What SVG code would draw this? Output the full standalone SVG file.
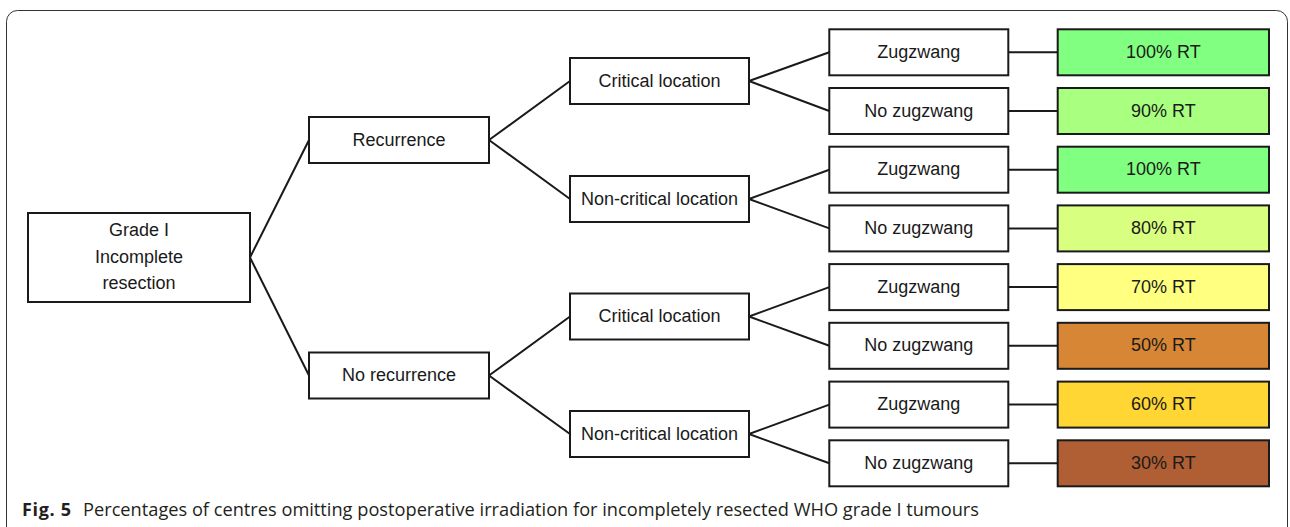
<svg xmlns="http://www.w3.org/2000/svg" width="1290" height="527" viewBox="0 0 1290 527">
<style>
.box{fill:#fff;stroke:#1a1a1a;stroke-width:2}
.res{stroke:#1a1a1a;stroke-width:2}
.lbl{font-family:"Liberation Sans",Arial,sans-serif;font-size:18px;fill:#1a1a1a;text-anchor:middle}
.con{stroke:#1a1a1a;stroke-width:2;fill:none}
.cap{font-family:"Open Sans","Noto Sans",sans-serif;font-size:18px;fill:#231f20}
</style>
<rect x="6.5" y="10.5" width="1281" height="540" rx="11" fill="#fff" stroke="#333" stroke-width="1"/>
<g id="connectors">
<path class="con" d="M250 257.5L309 140M250 257.5L309 375.5"/>
<path class="con" d="M489 140L570 81M489 140L570 199M489 375.5L570 316.5M489 375.5L570 434"/>
<path class="con" d="M749 81L829.3 52.3M749 81L829.3 111M749 199L829.3 169.7M749 199L829.3 228.4"/>
<path class="con" d="M749 316.5L829.3 287.1M749 316.5L829.3 345.8M749 434L829.3 404.6M749 434L829.3 463.3"/>
<path class="con" d="M1008.3 52.3H1057.7M1008.3 111H1057.7M1008.3 169.7H1057.7M1008.3 228.4H1057.7M1008.3 287.1H1057.7M1008.3 345.8H1057.7M1008.3 404.6H1057.7M1008.3 463.3H1057.7"/>
</g>
<g id="root"><rect class="box" x="28" y="213" width="222" height="89"/>
<text class="lbl" x="139" y="236">Grade I</text><text class="lbl" x="139" y="262.5">Incomplete</text><text class="lbl" x="139" y="289">resection</text></g>
<g id="recurrence"><rect class="box" x="309" y="117" width="180" height="46"/><text class="lbl" x="399" y="145.5">Recurrence</text></g>
<g id="no-recurrence"><rect class="box" x="309" y="352.5" width="180" height="46"/><text class="lbl" x="399" y="381">No recurrence</text></g>
<g id="rec-critical"><rect class="box" x="570" y="58" width="179" height="46"/><text class="lbl" x="659.5" y="86.5">Critical location</text></g>
<g id="rec-noncritical"><rect class="box" x="570" y="176" width="179" height="46"/><text class="lbl" x="659.5" y="204.5">Non-critical location</text></g>
<g id="norec-critical"><rect class="box" x="570" y="293.5" width="179" height="46"/><text class="lbl" x="659.5" y="322">Critical location</text></g>
<g id="norec-noncritical"><rect class="box" x="570" y="411" width="179" height="46"/><text class="lbl" x="659.5" y="439.5">Non-critical location</text></g>
<g id="leaf1"><rect class="box" x="829.3" y="29.3" width="179" height="46"/><text class="lbl" x="918.8" y="57.8">Zugzwang</text></g>
<g id="leaf2"><rect class="box" x="829.3" y="88" width="179" height="46"/><text class="lbl" x="918.8" y="116.5">No zugzwang</text></g>
<g id="leaf3"><rect class="box" x="829.3" y="146.7" width="179" height="46"/><text class="lbl" x="918.8" y="175.2">Zugzwang</text></g>
<g id="leaf4"><rect class="box" x="829.3" y="205.4" width="179" height="46"/><text class="lbl" x="918.8" y="233.9">No zugzwang</text></g>
<g id="leaf5"><rect class="box" x="829.3" y="264.1" width="179" height="46"/><text class="lbl" x="918.8" y="292.6">Zugzwang</text></g>
<g id="leaf6"><rect class="box" x="829.3" y="322.8" width="179" height="46"/><text class="lbl" x="918.8" y="351.3">No zugzwang</text></g>
<g id="leaf7"><rect class="box" x="829.3" y="381.6" width="179" height="46"/><text class="lbl" x="918.8" y="410.1">Zugzwang</text></g>
<g id="leaf8"><rect class="box" x="829.3" y="440.3" width="179" height="46"/><text class="lbl" x="918.8" y="468.8">No zugzwang</text></g>
<g id="res1"><rect class="res" fill="#80ff80" x="1057.7" y="29.3" width="211.3" height="46"/><text class="lbl" x="1163.3" y="57.8">100% RT</text></g>
<g id="res2"><rect class="res" fill="#a8ff80" x="1057.7" y="88" width="211.3" height="46"/><text class="lbl" x="1163.3" y="116.5">90% RT</text></g>
<g id="res3"><rect class="res" fill="#80ff80" x="1057.7" y="146.7" width="211.3" height="46"/><text class="lbl" x="1163.3" y="175.2">100% RT</text></g>
<g id="res4"><rect class="res" fill="#d9ff80" x="1057.7" y="205.4" width="211.3" height="46"/><text class="lbl" x="1163.3" y="233.9">80% RT</text></g>
<g id="res5"><rect class="res" fill="#ffff80" x="1057.7" y="264.1" width="211.3" height="46"/><text class="lbl" x="1163.3" y="292.6">70% RT</text></g>
<g id="res6"><rect class="res" fill="#d68634" x="1057.7" y="322.8" width="211.3" height="46"/><text class="lbl" x="1163.3" y="351.3">50% RT</text></g>
<g id="res7"><rect class="res" fill="#ffd633" x="1057.7" y="381.6" width="211.3" height="46"/><text class="lbl" x="1163.3" y="410.1">60% RT</text></g>
<g id="res8"><rect class="res" fill="#b05e33" x="1057.7" y="440.3" width="211.3" height="46"/><text class="lbl" x="1163.3" y="468.8">30% RT</text></g>
<text class="cap" y="515.7"><tspan x="22" font-weight="bold" textLength="49">Fig. 5</tspan><tspan x="83" textLength="896" lengthAdjust="spacingAndGlyphs">Percentages of centres omitting postoperative irradiation for incompletely resected WHO grade I tumours</tspan></text>
</svg>
